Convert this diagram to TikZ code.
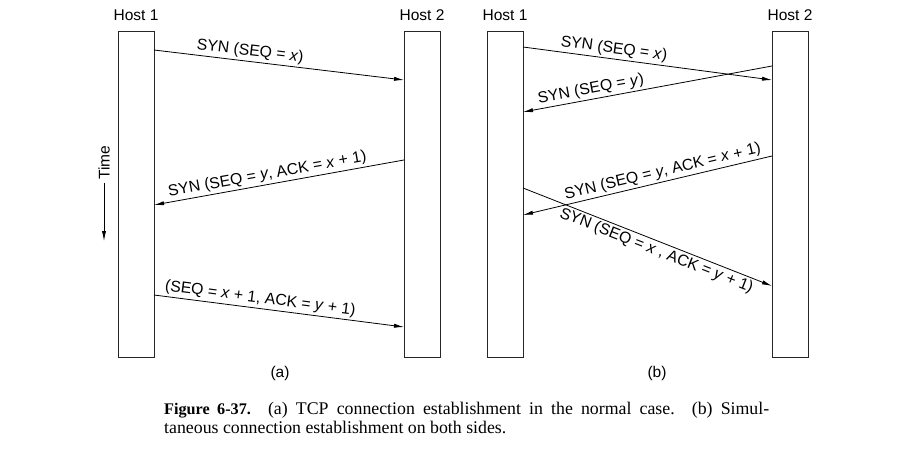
\documentclass[tikz,border=0pt]{standalone}
\usepackage{fontspec}
\setmainfont{Liberation Serif}
\setsansfont{Liberation Sans}
\usetikzlibrary{arrows.meta}
\begin{document}
\begin{tikzpicture}[x=1pt,y=-1pt,
  host/.style={draw=black!85, line width=0.9pt, minimum width=36pt, minimum height=326pt, anchor=north west, inner sep=0pt},
  hlabel/.style={font=\sffamily\fontsize{15.5}{18}\selectfont, anchor=base},
  msg/.style={line width=0.8pt, -{Latex[length=10pt,width=4.2pt]}},
  lab/.style={font=\sffamily\fontsize{15.8}{18}\selectfont, sloped, inner sep=2pt},
  sub/.style={font=\sffamily\fontsize{15.5}{18}\selectfont},
  captext/.style={anchor=base west, inner sep=0pt, font=\rmfamily\fontsize{17.8}{20}\selectfont}]
\useasboundingbox (0,0) rectangle (920,449);
% boxes
\node[host] (a1) at (118,31) {};
\node[host] (a2) at (404,31) {};
\node[host] (b1) at (486.5,31) {};
\node[host] (b2) at (772,31) {};
% host labels
\node[hlabel] (ta1) at (136,21) {Host 1};
\node[hlabel] (ta2) at (422,21) {Host 2};
\node[hlabel] (tb1) at (505,21) {Host 1};
\node[hlabel] (tb2) at (790,21) {Host 2};
% endpoints (a)
\coordinate (a1s) at (154,50);
\coordinate (a2e) at (404,80);
\coordinate (a2s) at (404,160);
\coordinate (a1e) at (154,205);
\coordinate (a1s2) at (154,295);
\coordinate (a2e2) at (404,327);
\draw[msg] (a1s) -- node[lab, above, pos=0.38] {SYN (SEQ = \textit{x})} (a2e);
\draw[msg] (a2s) -- node[lab, above, pos=0.54] {SYN (SEQ = \textit{y}, ACK = \textit{x} + 1)} (a1e);
\draw[msg] (a1s2) -- node[lab, above, pos=0.42] {(SEQ = \textit{x} + 1, ACK = \textit{y} + 1)} (a2e2);
% time
\node[sub, rotate=90, anchor=east] (time) at (104,142) {Time};
\coordinate (timeend) at (104,241);
\draw[msg] (time.west) -- (timeend);
% endpoints (b)
\coordinate (b1s) at (523,47);
\coordinate (b2e) at (772,80);
\coordinate (b2s) at (772,66);
\coordinate (b1e) at (523,112);
\coordinate (b2s2) at (772,156);
\coordinate (b1e2) at (523,215);
\coordinate (b1s2) at (523,188);
\coordinate (b2e2) at (772,286);
\draw[msg] (b1s) -- node[lab, above, pos=0.36] {SYN (SEQ = \textit{x})} (b2e);
\draw[msg] (b2s) -- node[lab, above, pos=0.72] {SYN (SEQ = \textit{y})} (b1e);
\draw[msg] (b2s2) -- node[lab, above, pos=0.43] {SYN (SEQ = \textit{y}, ACK = \textit{x} + 1)} (b1e2);
\draw[msg] (b1s2) -- node[lab, below, pos=0.55] {SYN (SEQ = \textit{x} , ACK = \textit{y} + 1)} (b2e2);
% sub captions
\node[sub] (capa) at (280,373) {(a)};
\node[sub] (capb) at (657,373) {(b)};
% caption
\node[captext] (cap1) at (164,414)
  {\makebox[605pt][s]{{\fontsize{16.2}{20}\selectfont\textbf{Figure 6-37.}} (a) TCP connection establishment in the normal case. (b) Simul-}};
\node[captext] (cap2) at (164,433)
  {taneous connection establishment on both sides.};
\end{tikzpicture}
\end{document}
